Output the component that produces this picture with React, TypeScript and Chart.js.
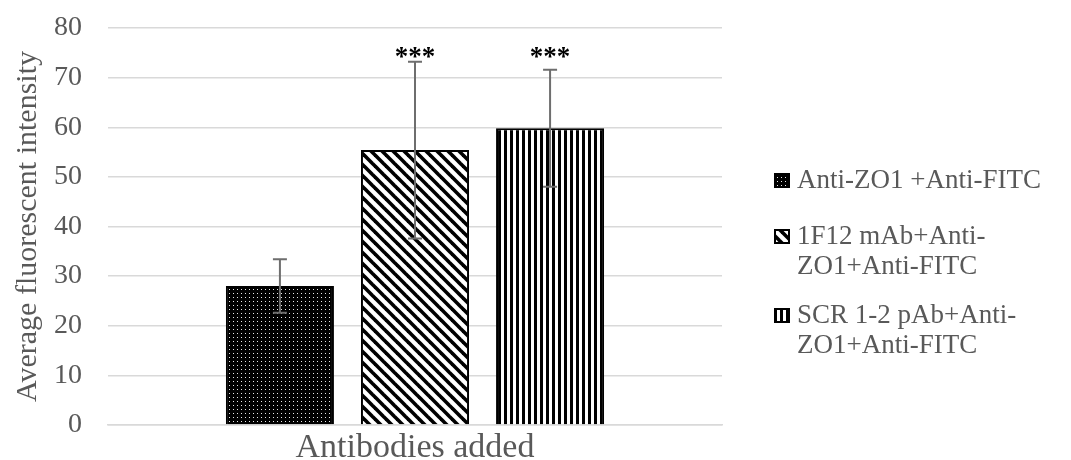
import React, { useEffect, useRef } from 'react';
import { Chart, registerables } from 'chart.js';

Chart.register(...registerables);

// ---------- data ----------
const categories = [''];
const seriesNames = ['Anti-ZO1 +Anti-FITC', '1F12 mAb+Anti-ZO1+Anti-FITC', 'SCR 1-2 pAb+Anti-ZO1+Anti-FITC'];
const legendLines = [['Anti-ZO1 +Anti-FITC'], ['1F12 mAb+Anti-', 'ZO1+Anti-FITC'], ['SCR 1-2 pAb+Anti-', 'ZO1+Anti-FITC']];
const meanValues = [28, 55.4, 59.8];
const errorValues = [5.4, 17.8, 11.8];
const significance = ['', '***', '***'];
const yTickValues = [0, 10, 20, 30, 40, 50, 60, 70, 80];
const xTitle = 'Antibodies added';
const yTitle = 'Average fluorescent intensity';

// ---------- style ----------
const FONT = '"Liberation Serif", "Times New Roman", serif';
const TEXT = '#595959';
const GRID = '#d9d9d9';

function makeTile(w: number, h: number, draw: (c: CanvasRenderingContext2D) => void) {
  const cv = document.createElement('canvas');
  cv.width = w;
  cv.height = h;
  const c = cv.getContext('2d')!;
  draw(c);
  return cv;
}

function makePatterns(ctx: CanvasRenderingContext2D) {
  const dots = makeTile(4, 4, (c) => {
    c.fillStyle = '#000';
    c.fillRect(0, 0, 4, 4);
    c.fillStyle = '#e8e8e8';
    c.fillRect(1, 1, 1, 1);
  });
  const diag = makeTile(11, 11, (c) => {
    c.fillStyle = '#fff';
    c.fillRect(0, 0, 11, 11);
    c.strokeStyle = '#000';
    c.lineWidth = 3.6;
    for (const x0 of [-11, 0, 11]) {
      c.beginPath();
      c.moveTo(x0 - 2, -2);
      c.lineTo(x0 + 13, 13);
      c.stroke();
    }
  });
  const vert = makeTile(6, 4, (c) => {
    c.fillStyle = '#fff';
    c.fillRect(0, 0, 6, 4);
    c.fillStyle = '#000';
    c.fillRect(0, 0, 3, 4);
  });
  return [dots, diag, vert].map((t) => ctx.createPattern(t, 'repeat')!);
}

const errorBarPlugin = {
  id: 'errorBars',
  afterDatasetsDraw(chart: any) {
    const { ctx, scales } = chart;
    const y = scales.y;
    ctx.save();
    let topMost = Infinity;
    meanValues.forEach((m, i) => {
      const bar = chart.getDatasetMeta(i).data[0];
      if (!bar) return;
      const x = bar.x;
      const yHi = y.getPixelForValue(m + errorValues[i]);
      const yLo = y.getPixelForValue(m - errorValues[i]);
      topMost = Math.min(topMost, yHi);
      ctx.strokeStyle = '#6e6e6e';
      ctx.lineWidth = 2;
      ctx.beginPath();
      ctx.moveTo(x, yHi);
      ctx.lineTo(x, yLo);
      ctx.moveTo(x - 7, yHi);
      ctx.lineTo(x + 7, yHi);
      ctx.moveTo(x - 7, yLo);
      ctx.lineTo(x + 7, yLo);
      ctx.stroke();
    });
    ctx.fillStyle = '#000';
    ctx.font = `bold 27px ${FONT}`;
    ctx.textAlign = 'center';
    ctx.textBaseline = 'alphabetic';
    significance.forEach((s, i) => {
      if (!s) return;
      const bar = chart.getDatasetMeta(i).data[0];
      if (!bar) return;
      ctx.fillText(s, bar.x, topMost + 3);
    });
    ctx.restore();
  },
};

const legendPlugin = {
  id: 'sideLegend',
  afterDraw(chart: any) {
    const { ctx } = chart;
    const boxX = chart.chartArea.right + 52;
    const textX = boxX + 23;
    const itemTops = [180, 236, 315];
    const lineH = 30;
    ctx.save();
    ctx.font = `27px ${FONT}`;
    ctx.textAlign = 'left';
    ctx.textBaseline = 'middle';
    legendLines.forEach((lines, i) => {
      const cy = itemTops[i];
      const ds = chart.data.datasets[i];
      ctx.fillStyle = ds ? ds.backgroundColor : '#000';
      ctx.fillRect(boxX, cy - 7, 16, 15);
      ctx.strokeStyle = '#000';
      ctx.lineWidth = 2;
      ctx.strokeRect(boxX + 1, cy - 6, 14, 13);
      ctx.fillStyle = TEXT;
      lines.forEach((ln, j) => ctx.fillText(ln, textX, cy + j * lineH + 1));
    });
    ctx.restore();
  },
};

export default function App() {
  const ref = useRef<HTMLCanvasElement>(null);
  useEffect(() => {
    const canvas = ref.current!;
    const ctx = canvas.getContext('2d')!;
    const patterns = makePatterns(ctx);
    const chart = new Chart(canvas, {
      type: 'bar',
      data: {
        labels: categories,
        datasets: seriesNames.map((name, i) => ({
          label: name,
          data: [meanValues[i]],
          backgroundColor: patterns[i] as any,
          borderColor: '#000',
          borderWidth: 2,
          categoryPercentage: 0.66,
          barPercentage: 0.8,
        })),
      },
      options: {
        responsive: false,
        animation: false,
        layout: { padding: { left: 10, right: 349, top: 28, bottom: 0 } },
        plugins: { legend: { display: false }, tooltip: { enabled: false } },
        scales: {
          x: {
            grid: { display: false, drawTicks: false },
            border: { display: true, color: GRID, width: 1.5 },
            ticks: { display: false },
            afterFit: (axis: any) => {
              axis.height = 35;
              axis.paddingLeft = 0;
              axis.paddingRight = 0;
            },
            title: {
              display: true,
              text: xTitle,
              color: TEXT,
              font: { family: FONT, size: 34, lineHeight: 0.72 },
              padding: { top: 0, bottom: 0 },
            },
          },
          y: {
            min: 0,
            max: 80,
            afterBuildTicks: (axis: any) => {
              axis.ticks = yTickValues.map((v) => ({ value: v }));
            },
            afterFit: (axis: any) => {
              axis.width = 98;
              axis.paddingTop = 0;
              axis.paddingBottom = 0;
            },
            ticks: {
              color: TEXT,
              font: { family: FONT, size: 28 },
              padding: 26,
              callback: (v: any) => String(v),
            },
            grid: { color: GRID, lineWidth: 1.5, drawTicks: false },
            border: { display: false },
            title: {
              display: true,
              text: yTitle,
              color: TEXT,
              font: { family: FONT, size: 30 },
              padding: { top: 0, bottom: 0 },
            },
          },
        },
      },
      plugins: [errorBarPlugin, legendPlugin],
    });
    return () => chart.destroy();
  }, []);
  return (
    <div style={{ position: 'fixed', left: 0, top: 0, width: 1071, height: 460, background: '#fff' }}>
      <canvas ref={ref} width={1071} height={460} />
    </div>
  );
}
